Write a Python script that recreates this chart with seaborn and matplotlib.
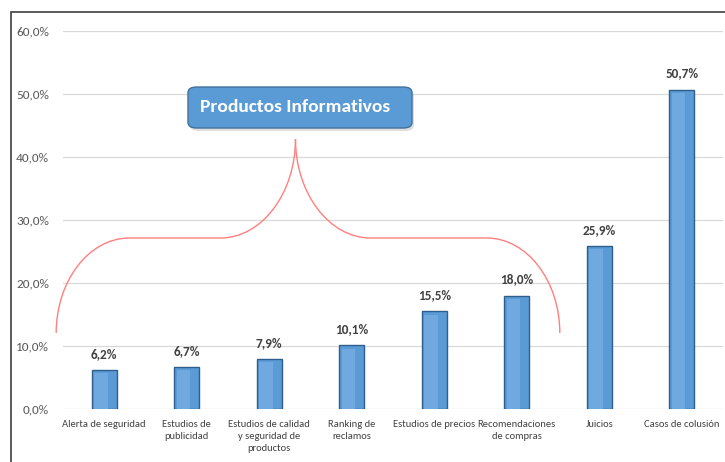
import matplotlib
matplotlib.use("Agg")
import matplotlib.pyplot as plt
import seaborn as sns
import pandas as pd
from matplotlib.path import Path
from matplotlib.patches import PathPatch, FancyBboxPatch, Rectangle

categories = ["Alerta de seguridad", "Estudios de\npublicidad",
              "Estudios de calidad\ny seguridad de\nproductos", "Ranking de\nreclamos",
              "Estudios de precios", "Recomendaciones\nde compras", "Juicios",
              "Casos de colusión"]
values = [6.2, 6.7, 7.9, 10.1, 15.5, 18.0, 25.9, 50.7]
yticks = [0, 10, 20, 30, 40, 50, 60]
ytick_labels = ["0,0%", "10,0%", "20,0%", "30,0%", "40,0%", "50,0%", "60,0%"]
box_text = "Productos Informativos"

FONT = ['Carlito', 'DejaVu Sans']
sns.set_theme(style="white")
plt.rcParams['font.family'] = FONT

fig = plt.figure(figsize=(7.25, 4.62), dpi=100)
ax = fig.add_axes([63/725, 1-409/462, 660/725, (409-31)/462])

df = pd.DataFrame({"cat": categories, "val": values})
sns.barplot(data=df, x="cat", y="val", color="#5B9BD5", width=0.3,
            edgecolor="#2E5E8C", linewidth=1.0, saturation=1, ax=ax)

# bevel highlight
for p in ax.patches:
    x0, w, h = p.get_x(), p.get_width(), p.get_height()
    ax.add_patch(Rectangle((x0 + w*0.1, 0), w*0.55, h - 0.5, facecolor="#6FA9E0",
                           edgecolor="none", zorder=p.get_zorder()+0.1))

for i, v in enumerate(values):
    ax.text(i, v + 1.6, f"{v:.1f}".replace(".", ",") + "%", ha="center", va="bottom",
            fontsize=9.5, fontweight="bold", color="#404040", family=FONT)

ax.set_xlim(-0.5, 7.5)
ax.set_ylim(0, 60)
ax.set_yticks(yticks)
ax.set_yticklabels(ytick_labels, fontsize=9.5, color="#595959")
ax.tick_params(axis="x", labelsize=7.6, colors="#404040", length=0, pad=8)
for lbl in ax.get_xticklabels():
    lbl.set_linespacing(1.45)
ax.tick_params(axis="y", length=0, pad=10)
ax.set_xlabel("")
ax.set_ylabel("")
ax.yaxis.grid(True, color="#D9D9D9", linewidth=0.9)
ax.set_axisbelow(True)
for s in ax.spines.values():
    s.set_visible(False)

# curly brace
def px2d(px, py):
    return ((px - 105) / 82.4, (409 - py) / 6.3)

k = 0.55
def brace_half(x_end, x_flat1, x_flat2, peak_x, y_end=333, y_flat=238, y_peak=139):
    s1 = 1 if x_flat1 > x_end else -1
    pts = [(x_end, y_end),
           (x_end, y_end - k * (y_end - y_flat)),
           (x_flat1 - s1 * k * abs(x_flat1 - x_end), y_flat),
           (x_flat1, y_flat),
           (x_flat2, y_flat),
           (x_flat2 + s1 * k * abs(peak_x - x_flat2), y_flat),
           (peak_x, y_peak + k * (y_flat - y_peak)),
           (peak_x, y_peak)]
    codes = [Path.MOVETO, Path.CURVE4, Path.CURVE4, Path.CURVE4, Path.LINETO,
             Path.CURVE4, Path.CURVE4, Path.CURVE4]
    return Path([px2d(*p) for p in pts], codes)

for path in (brace_half(57, 130, 221, 296), brace_half(560, 487, 371, 296)):
    ax.add_patch(PathPatch(path, facecolor="none", edgecolor="#FF7F7F",
                           linewidth=1.0, clip_on=False, zorder=3))

# label box
bx0, by0 = 188 / 725, 1 - 128 / 462
bw, bh = (412 - 188) / 725, (128 - 87) / 462
fig.patches.append(FancyBboxPatch((bx0 + 2/725, by0 - 3/462), bw, bh,
                                  boxstyle="round,pad=0,rounding_size=0.012",
                                  transform=fig.transFigure, facecolor="#C8C8C8",
                                  edgecolor="none", alpha=0.6, zorder=4))
fig.patches.append(FancyBboxPatch((bx0, by0), bw, bh, boxstyle="round,pad=0,rounding_size=0.012",
                                  transform=fig.transFigure, facecolor="#5B9BD5",
                                  edgecolor="#41719C", linewidth=1.0, zorder=5))
fig.text(bx0 + 12/725, by0 + bh/2, box_text, ha="left", va="center",
         fontsize=14, fontweight="bold", color="white", zorder=6, family=FONT)

# outer border
fig.patches.append(Rectangle((11/725, -0.05), 1.1, 1 - 12/462 + 0.05, transform=fig.transFigure,
                             facecolor="none", edgecolor="#404040", linewidth=1.2, zorder=10))

fig.savefig("out.png", dpi=100)
